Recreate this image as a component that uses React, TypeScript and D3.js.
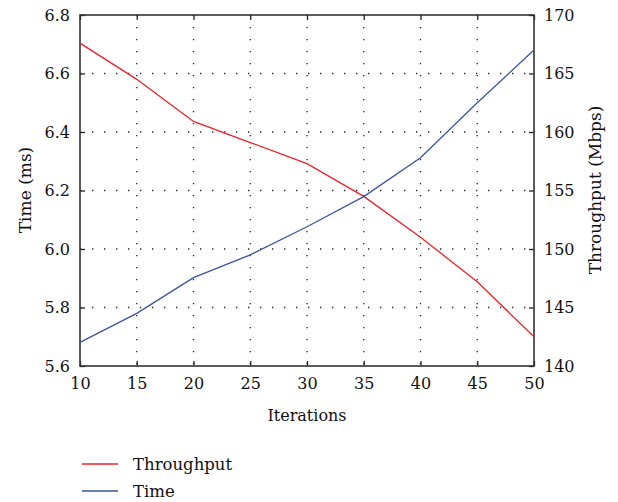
import React, { useEffect, useRef } from 'react';
import * as d3 from 'd3';

const iterations = [10, 15, 20, 25, 30, 35, 40, 45, 50];
const throughput = [167.6, 164.5, 160.9, 159.1, 157.3, 154.5, 151.0, 147.2, 142.5];
const time = [5.681, 5.78, 5.902, 5.98, 6.076, 6.179, 6.312, 6.5, 6.68];
const xTicks = [10, 15, 20, 25, 30, 35, 40, 45, 50];
const leftTicks = [5.6, 5.8, 6.0, 6.2, 6.4, 6.6, 6.8];
const rightTicks = [140, 145, 150, 155, 160, 165, 170];
const legendItems = [
  { label: 'Throughput', color: '#f0202a' },
  { label: 'Time', color: '#3a55a4' },
];

const FONT = '"DejaVu Serif", serif';

const App = () => {
  const ref = useRef<SVGSVGElement>(null);

  useEffect(() => {
    const svg = d3.select(ref.current);
    svg.selectAll('*').remove();

    const margin = { top: 15, right: 84, bottom: 136, left: 80 };
    const width = 618 - margin.left - margin.right;
    const height = 502 - margin.top - margin.bottom;

    const g = svg.append('g').attr('transform', `translate(${margin.left},${margin.top})`);

    const x = d3.scaleLinear().domain([10, 50]).range([0, width]);
    const yL = d3.scaleLinear().domain([5.6, 6.8]).range([height, 0]);
    const yR = d3.scaleLinear().domain([140, 170]).range([height, 0]);

    // dotted grid
    g.selectAll('.vgrid')
      .data(xTicks.slice(1, -1))
      .join('line')
      .attr('x1', d => x(d)).attr('x2', d => x(d))
      .attr('y1', 0).attr('y2', height)
      .attr('stroke', '#222').attr('stroke-width', 1.3)
      .attr('stroke-dasharray', '1.3,10.7');
    g.selectAll('.hgrid')
      .data(leftTicks.slice(1, -1))
      .join('line')
      .attr('x1', 0).attr('x2', width)
      .attr('y1', d => yL(d)).attr('y2', d => yL(d))
      .attr('stroke', '#222').attr('stroke-width', 1.3)
      .attr('stroke-dasharray', '1.3,10.7');

    const tickStyle = (sel: any) => {
      sel.select('.domain').remove();
      sel.selectAll('line').attr('stroke', '#222').attr('stroke-width', 1.3);
      sel.selectAll('text').attr('font-family', FONT).attr('font-size', 16).attr('fill', '#111');
    };

    g.append('g')
      .attr('transform', `translate(0,${height})`)
      .call(d3.axisBottom(x).tickValues(xTicks).tickSize(-5).tickPadding(12).tickFormat(d3.format('d')))
      .call(tickStyle);
    g.append('g')
      .call(d3.axisTop(x).tickValues(xTicks).tickSize(-5).tickFormat(() => ''))
      .call(tickStyle);
    g.append('g')
      .call(d3.axisLeft(yL).tickValues(leftTicks).tickSize(-5).tickPadding(10).tickFormat(d3.format('.1f')))
      .call(tickStyle);
    g.append('g')
      .attr('transform', `translate(${width},0)`)
      .call(d3.axisRight(yR).tickValues(rightTicks).tickSize(-5).tickPadding(10).tickFormat(d3.format('d')))
      .call(tickStyle);

    // frame
    g.append('rect')
      .attr('width', width).attr('height', height)
      .attr('fill', 'none').attr('stroke', '#333').attr('stroke-width', 1.6);

    const lineT = d3.line<number>().x((_, i) => x(iterations[i])).y(d => yR(d));
    const lineM = d3.line<number>().x((_, i) => x(iterations[i])).y(d => yL(d));

    g.append('path').datum(throughput).attr('d', lineT)
      .attr('fill', 'none').attr('stroke', legendItems[0].color).attr('stroke-width', 1.3);
    g.append('path').datum(time).attr('d', lineM)
      .attr('fill', 'none').attr('stroke', legendItems[1].color).attr('stroke-width', 1.3);

    // axis titles
    svg.append('text')
      .attr('x', margin.left + width / 2).attr('y', 421)
      .attr('text-anchor', 'middle')
      .attr('font-family', FONT).attr('font-size', 16).attr('fill', '#111')
      .text('Iterations');
    svg.append('text')
      .attr('transform', `translate(31,190) rotate(-90)`)
      .attr('text-anchor', 'middle')
      .attr('font-family', FONT).attr('font-size', 17).attr('fill', '#111')
      .text('Time (ms)');
    svg.append('text')
      .attr('transform', `translate(601,190) rotate(-90)`)
      .attr('text-anchor', 'middle')
      .attr('font-family', FONT).attr('font-size', 17).attr('fill', '#111')
      .text('Throughput (Mbps)');

    // legend
    const lg = svg.append('g').attr('transform', 'translate(82,464)');
    const item = lg.selectAll('g').data(legendItems).join('g')
      .attr('transform', (_, i) => `translate(0,${i * 27})`);
    item.append('line').attr('x1', 0).attr('x2', 36).attr('y1', 0).attr('y2', 0)
      .attr('stroke', d => d.color).attr('stroke-width', 1.3);
    item.append('text').attr('x', 51).attr('y', 6)
      .attr('font-family', FONT).attr('font-size', 16.5).attr('fill', '#111')
      .text(d => d.label);
  }, []);

  return (
    <svg ref={ref} width={618} height={502}
      style={{ position: 'absolute', left: 0, top: 0, background: '#fff' }} />
  );
};

export default App;
